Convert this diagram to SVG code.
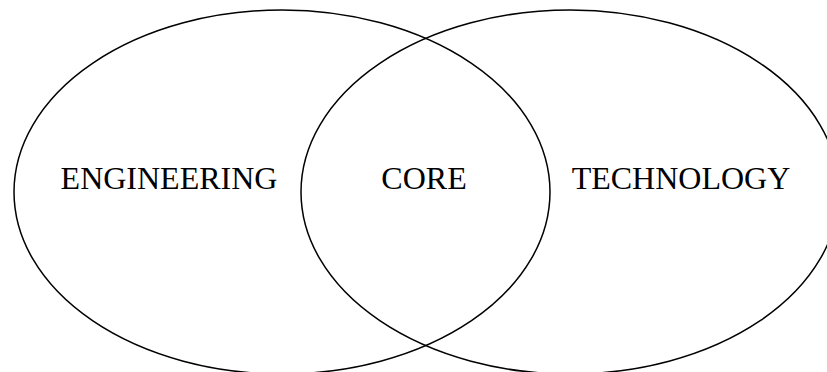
<svg xmlns="http://www.w3.org/2000/svg" width="827" height="372" viewBox="0 0 827 372">
<style>
.set{fill:none;stroke:#000;stroke-width:1.5}
.lbl{font-family:"Liberation Serif","Times New Roman",serif;font-size:32px;fill:#000;text-anchor:middle}
</style>
<rect width="827" height="372" fill="#fff"/>
<g id="engineering">
<ellipse class="set" cx="282" cy="192" rx="268" ry="182"/>
<text class="lbl" x="169" y="189">ENGINEERING</text>
</g>
<g id="technology">
<ellipse class="set" cx="570" cy="192" rx="269" ry="182"/>
<text class="lbl" x="681" y="189">TECHNOLOGY</text>
</g>
<g id="core">
<text class="lbl" x="424" y="189">CORE</text>
</g>
<g id="connectors"></g>
</svg>
